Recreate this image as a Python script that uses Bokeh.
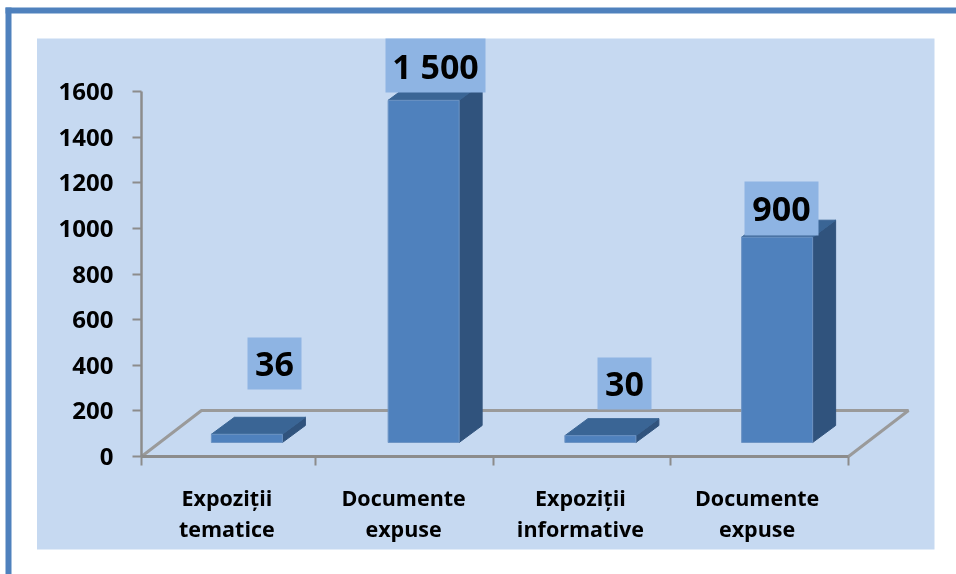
from bokeh.plotting import figure
from bokeh.models import FixedTicker, Range1d
from bokeh.core.properties import value as V
from bokeh.embed import file_html
from bokeh.resources import INLINE

categories = ["Expoziții\ntematice", "Documente\nexpuse", "Expoziții\ninformative", "Documente\nexpuse"]
values = [36, 1500, 30, 900]
value_labels = ["36", "1 500", "30", "900"]
y_ticks = [0, 200, 400, 600, 800, 1000, 1200, 1400, 1600]

W, H = 956, 574
X0, Y0 = 141, 456
PX_PER_CAT = 176.75
PX_PER_VAL = 365 / 1600
FONT = "Open Sans"

dx = lambda px: px / PX_PER_CAT
dy = lambda px: px / PX_PER_VAL

p = figure(width=W, height=H, output_backend="svg", toolbar_location=None,
           x_range=Range1d(dx(-X0), dx(W - X0)), y_range=Range1d(dy(Y0 - H), dy(Y0)),
           min_border=0,
           background_fill_color="white", border_fill_color="white", outline_line_color=None,
           styles={"position": "fixed", "left": "0px", "top": "0px"})
p.grid.visible = False

# page panel and frame: left, right, top, bottom in page pixels
for l, r, t, b, c in [(36.5, 934, 38, 549, "#c6d9f1"), (5, 956, 7, 13, "#4f81bd"), (5, 11, 7, 574, "#4f81bd")]:
    p.quad(left=dx(l - X0), right=dx(r - X0), top=dy(Y0 - t), bottom=dy(Y0 - b),
           fill_color=c, line_color=None, level="underlay")

# axes
ya = p.yaxis[0]
ya.fixed_location = 0
ya.ticker = FixedTicker(ticks=y_ticks)
ya.bounds = (0, 1600)
ya.axis_line_color = "#8c8c8c"; ya.axis_line_width = 2.5
ya.major_tick_line_color = "#8c8c8c"; ya.major_tick_line_width = 2
ya.major_tick_out = 9; ya.major_tick_in = 0
ya.minor_tick_line_color = None
ya.major_label_standoff = 19
ya.major_label_text_font = FONT; ya.major_label_text_font_style = "bold"
ya.major_label_text_font_size = "24px"; ya.major_label_text_color = "black"

xa = p.xaxis[0]
xa.fixed_location = 0
n = len(categories)
centers = [i + 0.5 - dx(3) for i in range(n)]
xa.ticker = FixedTicker(ticks=centers, minor_ticks=[0, 0.985, 1.99, 2.995, 4])
xa.bounds = (0, n)
xa.major_label_overrides = dict(zip(centers, categories))
xa.axis_line_color = "#8c8c8c"; xa.axis_line_width = 3
xa.major_tick_line_color = None
xa.minor_tick_line_color = "#8c8c8c"; xa.minor_tick_line_width = 2
xa.minor_tick_out = 9; xa.minor_tick_in = 0
xa.major_label_standoff = 17
xa.major_label_text_font = FONT; xa.major_label_text_font_style = "bold"
xa.major_label_text_font_size = "21.5px"; xa.major_label_text_color = "black"
xa.major_label_text_line_height = 1.1

# floor
fx, fy = dx(60), dy(46)
p.line([0, fx, n + fx, n], [0, fy, fy, 0], line_color="#9a9a9a", line_width=3)

# 3D bars
bar_w = dx(71)
off_x, off_y = dx(17), dy(14)
depth_x, depth_y = dx(23), dy(17)
for i, v in enumerate(values):
    l = i + 0.5 - bar_w / 2 + off_x
    r = l + bar_w
    b = off_y
    t = b + v
    p.patch([r, r + depth_x, r + depth_x, r], [b, b + depth_y, t + depth_y, t], fill_color="#30537d", line_color="#30537d")
    p.patch([l, l + depth_x, r + depth_x, r], [t, t + depth_y, t + depth_y, t], fill_color="#3a6595", line_color="#3a6595")
    p.quad(left=l, right=r, bottom=b, top=t, fill_color="#4f81bd", line_color="#6d94c4", line_width=1)

# value labels: centre and size in pixels on the page
label_boxes = [(274, 363, 54, 52), (435, 65, 100, 54), (624, 383, 54, 52), (781, 208, 74, 54)]
for (cx, cy, w, h), s in zip(label_boxes, value_labels):
    x = dx(cx - X0)
    y = dy(Y0 - cy)
    p.quad(left=x - dx(w / 2), right=x + dx(w / 2), bottom=y - dy(h / 2), top=y + dy(h / 2),
           fill_color="#8eb4e3", line_color=None)
    p.text([x], [y], text=[s], text_font=V(FONT), text_font_style="bold", text_font_size="34px",
           text_color="black", text_align="center", text_baseline="middle")

open("out.html", "w").write(file_html(p, INLINE))
